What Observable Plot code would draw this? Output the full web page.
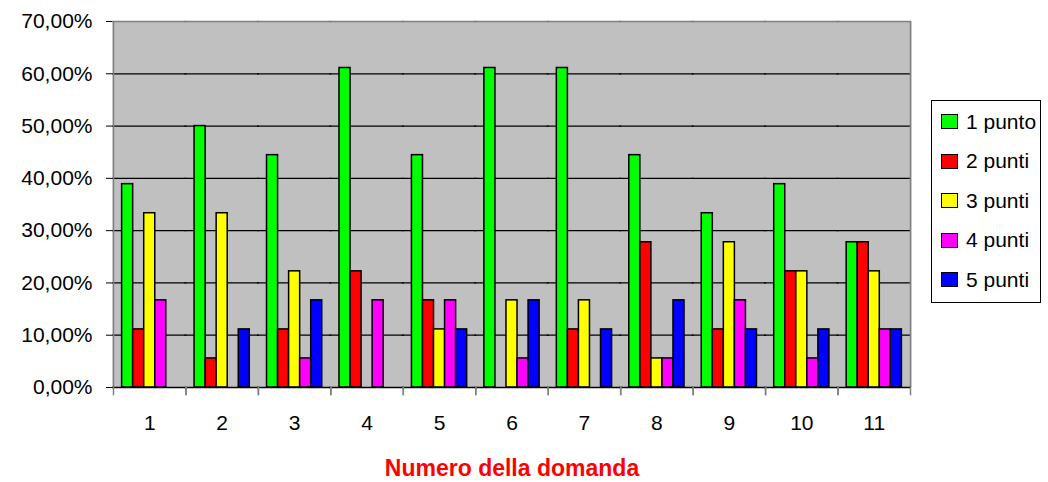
<!DOCTYPE html>
<html><head><meta charset="utf-8">
<script src="https://cdn.jsdelivr.net/npm/d3@7"></script>
<script src="https://cdn.jsdelivr.net/npm/@observablehq/plot@0.6"></script>
<style>
body{margin:0;background:#fff;font-family:"Liberation Sans",Arial,sans-serif;}
#wrap{position:relative;width:1048px;height:482px;}
#legend{position:absolute;left:931px;top:100px;width:110px;height:203px;border:1px solid #000;box-sizing:border-box;background:#fff;padding-top:1px;}
.item{display:flex;align-items:center;height:39.5px;font-size:21px;color:#000;}
.sw{width:17px;height:15px;border:1.5px solid #000;margin-left:9px;margin-right:8px;box-sizing:border-box;}
g[aria-label="fx-axis label"] text{fill:#ff0000;font-weight:bold;font-size:23px;}
</style>
</head><body>
<div id="wrap"><div id="chart"></div><div id="legend"></div></div>
<script>
const questions = ["1","2","3","4","5","6","7","8","9","10","11"];
const series = ["1 punto","2 punti","3 punti","4 punti","5 punti"];
const colors = ["#00ff00","#ff0000","#ffff00","#ff00ff","#0000ff"];
const v1 = [38.89, 50.00, 44.44, 61.11, 44.44, 61.11, 61.11, 44.44, 33.33, 38.89, 27.78];
const v2 = [11.11, 5.56, 11.11, 22.22, 16.67, 0, 11.11, 27.78, 11.11, 22.22, 27.78];
const v3 = [33.33, 33.33, 22.22, 0, 11.11, 16.67, 16.67, 5.56, 27.78, 22.22, 22.22];
const v4 = [16.67, 0, 5.56, 16.67, 16.67, 5.56, 0, 5.56, 16.67, 5.56, 11.11];
const v5 = [0, 11.11, 16.67, 0, 11.11, 16.67, 11.11, 16.67, 11.11, 11.11, 11.11];
const yTicks = [0, 10, 20, 30, 40, 50, 60, 70];
const xLabel = "Numero della domanda";

const values = [v1, v2, v3, v4, v5];
const data = questions.flatMap((q, i) => series.map((s, j) => ({q, s, v: values[j][i]})));

const W = 1048, ML = 113, MR = 138;
const halfBand = (W - ML - MR) / questions.length / 2;

const chart = Plot.plot({
  width: W, height: 482,
  marginLeft: ML, marginRight: MR, marginTop: 21, marginBottom: 95,
  style: {fontFamily: "'Liberation Sans', Arial, sans-serif", fontSize: "21px", color: "#000", background: "transparent"},
  fx: {domain: questions, padding: 0, round: false, label: xLabel, labelAnchor: "center", labelOffset: 88, tickSize: 0, tickPadding: 28},
  x: {domain: series, paddingInner: 0, paddingOuter: 0.78, round: false, axis: null},
  y: {domain: [0, 70], ticks: yTicks, tickFormat: d => d.toFixed(2).replace(".", ",") + "%", tickSize: 7, tickPadding: 14, label: null},
  color: {domain: series, range: colors},
  marks: [
    Plot.frame({fill: "#c0c0c0", insetLeft: -1, insetRight: -1}),
    Plot.ruleY(yTicks.slice(1, -1), {stroke: "#000", strokeWidth: 1.3, insetLeft: -1, insetRight: -1}),
    Plot.ruleY([70], {stroke: "#808080", strokeWidth: 1.5, insetLeft: -1, insetRight: -1}),
    Plot.barY(data, {filter: d => d.v > 0, fx: "q", x: "s", y: "v", fill: "s", stroke: "#000", strokeWidth: 1.5}),
    Plot.ruleX([{q: questions[0]}], {fx: "q", x: null, dx: -halfBand, y1: 0, y2: 70, stroke: "#808080", strokeWidth: 1.5}),
    Plot.ruleX([{q: questions[questions.length - 1]}], {fx: "q", x: null, dx: halfBand, y1: 0, y2: 70, stroke: "#808080", strokeWidth: 1.5}),
    Plot.ruleY([0], {stroke: "#000", strokeWidth: 1.5, insetLeft: -1, insetRight: -1}),
    Plot.frame({anchor: "left", insetTop: 366, insetBottom: -7, stroke: "#808080", strokeWidth: 1.5}),
    Plot.frame({anchor: "right", insetTop: 366, insetBottom: -7, stroke: "#808080", strokeWidth: 1.5})
  ]
});
document.getElementById("chart").appendChild(chart);

const legend = document.getElementById("legend");
series.forEach((s, j) => {
  const it = document.createElement("div");
  it.className = "item";
  const sw = document.createElement("div");
  sw.className = "sw";
  sw.style.background = colors[j];
  const t = document.createElement("span");
  t.textContent = s;
  it.appendChild(sw); it.appendChild(t);
  legend.appendChild(it);
});
</script>
</body></html>
